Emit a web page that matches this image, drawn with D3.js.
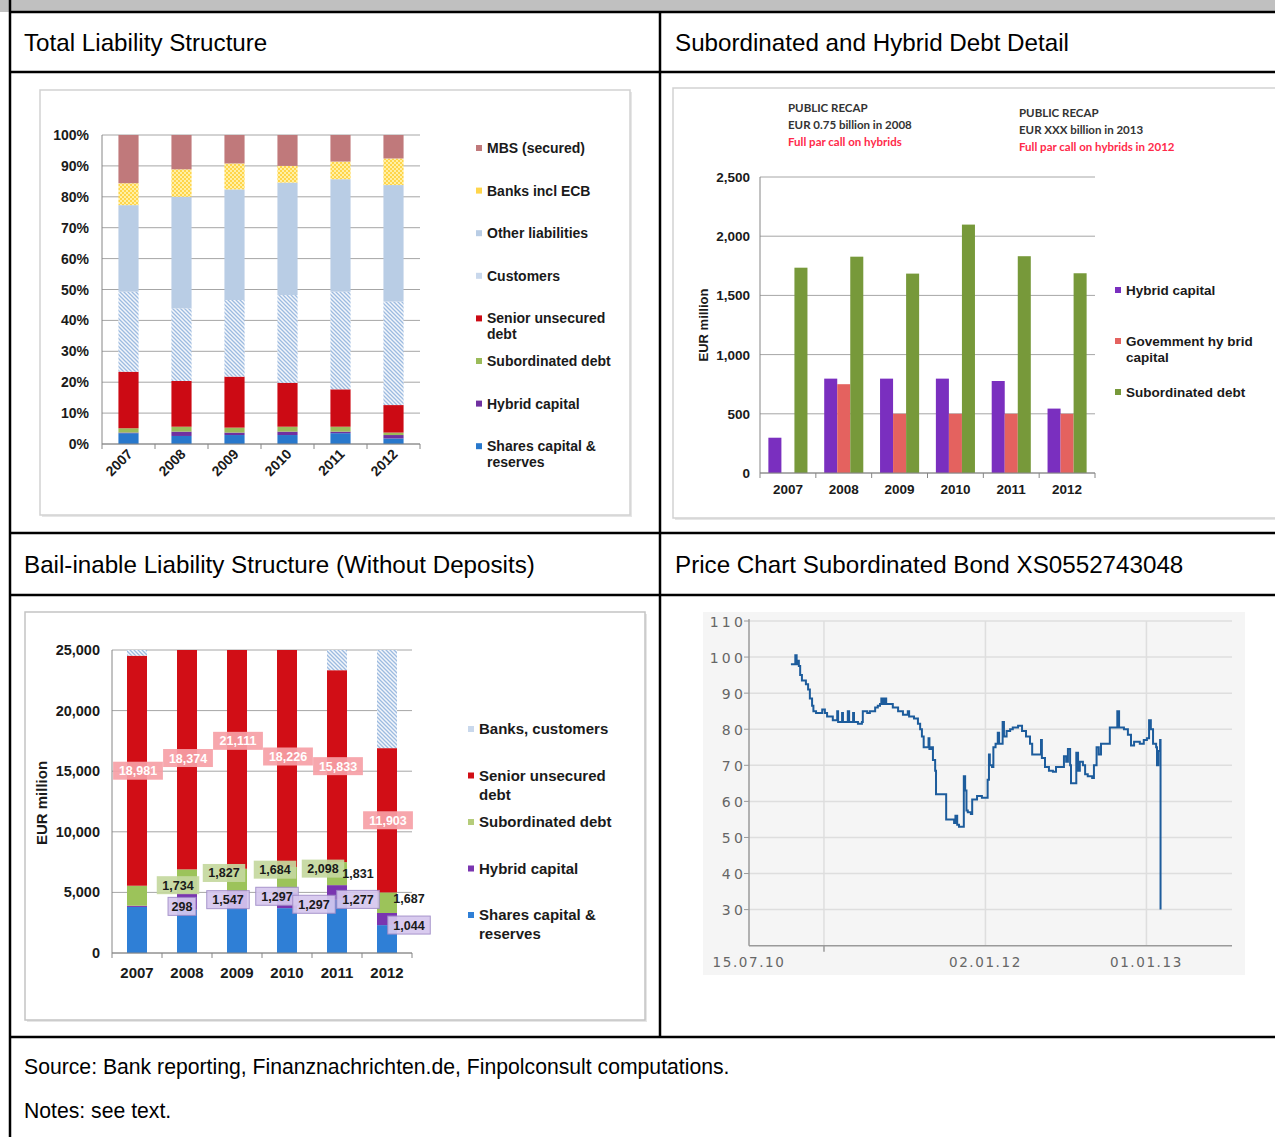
<!DOCTYPE html>
<html>
<head>
<meta charset="utf-8">
<script src="https://cdn.jsdelivr.net/npm/d3@7"></script>
<style>
body { margin: 0; background: #fff; }
svg { display: block; font-family: "Liberation Sans", Arial, sans-serif; }
</style>
</head>
<body>
<svg id="page" width="1275" height="1137"></svg>
<script>
const years = ['2007', '2008', '2009', '2010', '2011', '2012'];

// Total liability structure, share of total (%)
const tlShares = [3.5, 2.6, 2.9, 2.9, 3.5, 1.8];
const tlHybrid = [0.2, 1.4, 0.8, 1.1, 0.5, 1.1];
const tlSub = [1.4, 1.6, 1.6, 1.6, 1.6, 0.8];
const tlSenior = [18.3, 14.8, 16.5, 14.2, 12.1, 8.9];
const tlCustomers = [25.9, 23.5, 24.8, 28.4, 31.6, 33.5];
const tlOther = [28.0, 36.1, 35.8, 36.4, 36.4, 37.7];
const tlBanks = [7.1, 8.9, 8.4, 5.4, 5.7, 8.6];
const tlMbs = [15.6, 11.1, 9.2, 10.0, 8.6, 7.6];
const tlTicks = [0, 10, 20, 30, 40, 50, 60, 70, 80, 90, 100];
const tlLegend = [['MBS (secured)'], ['Banks incl ECB'], ['Other liabilities'], ['Customers'],
    ['Senior unsecured', 'debt'], ['Subordinated debt'], ['Hybrid capital'], ['Shares capital &', 'reserves']];

// Subordinated and hybrid debt detail, EUR million
const trHybrid = [298, 797, 797, 797, 777, 544];
const trGov = [0, 750, 500, 500, 500, 500];
const trSub = [1734, 1827, 1684, 2098, 1831, 1687];
const trTicks = [0, 500, 1000, 1500, 2000, 2500];
const trLegend = [['Hybrid capital'], ['Govemment hy brid', 'capital'], ['Subordinated debt']];
const trNoteLeft = ['PUBLIC RECAP', 'EUR 0.75  billion in 2008', 'Full par call on hybrids'];
const trNoteRight = ['PUBLIC RECAP', 'EUR XXX billion in 2013', 'Full par call on hybrids in 2012'];

// Bail-inable liability structure, EUR million
const blShares = [3800, 3570, 3700, 3700, 4400, 2300];
const blHybrid = [100, 1380, 1400, 1300, 1200, 1000];
const blSub = [1650, 1950, 1850, 2100, 1900, 1700];
const blSenior = [18981, 18374, 21111, 18226, 15833, 11903];
const blBanks = [2500, 2500, 2500, 2500, 4000, 10000];
const blTicks = [0, 5000, 10000, 15000, 20000, 25000];
const blSubLabelYears = ['2008', '2009', '2010', '2011', '2011', '2012'];
const blSubLabels = [1734, 1827, 1684, 2098, 1831, 1687];
const blHybLabelYears = ['2008', '2009', '2010', '2010', '2011', '2012'];
const blHybLabels = [298, 1547, 1297, 1297, 1277, 1044];
const blLegend = [['Banks, customers'], ['Senior unsecured', 'debt'], ['Subordinated debt'], ['Hybrid capital'], ['Shares capital &', 'reserves']];

// Price chart subordinated bond
const priceDates = ['2010-10-18','2010-10-25','2010-10-28','2010-10-31','2010-11-03','2010-11-05','2010-11-08','2010-11-12',
    '2010-11-21','2010-11-26','2010-11-30','2010-12-05','2010-12-08','2010-12-14','2010-12-23','2010-12-28',
    '2011-01-03','2011-01-08','2011-01-17','2011-01-21','2011-01-28','2011-01-31','2011-02-02','2011-02-09',
    '2011-02-11','2011-02-13','2011-02-22','2011-02-24','2011-02-27','2011-03-06','2011-03-08','2011-03-10',
    '2011-03-19','2011-03-28','2011-03-30','2011-04-09','2011-04-15','2011-04-27','2011-05-03','2011-05-08',
    '2011-05-11','2011-05-15','2011-05-19','2011-05-22','2011-05-31','2011-06-06','2011-06-18','2011-06-29',
    '2011-07-08','2011-07-10','2011-07-13','2011-07-24','2011-08-02','2011-08-07','2011-08-11','2011-08-15',
    '2011-08-23','2011-08-26','2011-08-28','2011-09-01','2011-09-05','2011-09-10','2011-09-12','2011-10-02',
    '2011-10-05','2011-10-20','2011-10-23','2011-10-26','2011-10-30','2011-11-03','2011-11-12','2011-11-14',
    '2011-11-17','2011-11-20','2011-11-23','2011-11-30','2011-12-03','2011-12-14','2011-12-21','2011-12-25',
    '2012-01-03','2012-01-07','2012-01-10','2012-01-12','2012-01-17','2012-01-20','2012-01-25','2012-01-30',
    '2012-02-02','2012-02-10','2012-02-13','2012-02-19','2012-02-27','2012-03-04','2012-03-16','2012-03-25',
    '2012-04-03','2012-04-12','2012-04-17','2012-05-05','2012-05-07','2012-05-09','2012-05-16','2012-05-25',
    '2012-06-03','2012-06-10','2012-06-24','2012-06-28','2012-07-03','2012-07-07','2012-07-12','2012-07-14',
    '2012-07-23','2012-07-26','2012-07-30','2012-08-03','2012-08-10','2012-08-15','2012-08-21','2012-08-31',
    '2012-09-04','2012-09-10','2012-09-15','2012-09-20','2012-10-06','2012-10-10','2012-10-24','2012-10-27',
    '2012-10-31','2012-11-11','2012-11-20','2012-11-27','2012-12-04','2012-12-17','2012-12-26','2013-01-02',
    '2013-01-07','2013-01-11','2013-01-16','2013-01-23','2013-01-25','2013-01-28','2013-02-01','2013-02-02'];
const priceValues = [98, 98, 100.5, 98, 99, 97.5, 95, 93.5,
    92.5, 91, 88.5, 86.5, 85, 84.5, 84.5, 85.5,
    84.5, 83.5, 83.5, 82.5, 82.5, 85, 82, 82,
    84.5, 82, 82, 85, 82, 82, 84.5, 82,
    81.5, 82, 85, 84.5, 85, 86, 86.5, 87,
    88.5, 87, 88.5, 87, 87, 86, 85, 84,
    84, 85, 83.5, 83, 81.5, 80, 78, 75,
    75, 77.5, 74.5, 75, 71.5, 68.5, 62, 62,
    55, 55, 54, 56, 53.5, 53, 53, 67,
    63, 57.5, 57, 56.5, 60.5, 61.5, 61.5, 61,
    61, 66, 73, 70, 69.5, 75, 76, 79,
    76, 82, 78, 79.5, 80, 80.5, 81, 79.5,
    78, 76, 73, 73, 77, 72, 69.5, 68.5,
    68.2, 69.5, 69.5, 72.5, 71, 74.5, 70, 65,
    65, 73.5, 68.5, 71, 70, 67.5, 67, 66.5,
    70, 75, 73, 76, 76, 80.5, 80.5, 85,
    80.5, 80, 78.5, 75.5, 76.5, 76, 77, 77.5,
    82.5, 80, 76, 75, 70, 74, 77, 30];
const priceTicks = [30, 40, 50, 60, 70, 80, 90, 100, 110];
const priceGridDates = ['2011-01-01', '2012-01-02', '2013-01-01'];
const priceLabelDates = ['2010-07-15', '2012-01-02', '2013-01-01'];

const svg = d3.select('#page');
const parseDate = d3.timeParse('%Y-%m-%d');
const fmt = d3.format(',');

// patterns
const defs = svg.append('defs');
const hatch = defs.append('pattern').attr('id', 'hatch').attr('patternUnits', 'userSpaceOnUse')
    .attr('width', 4).attr('height', 4);
hatch.append('rect').attr('width', 4).attr('height', 4).attr('fill', '#f3f6fb');
hatch.append('path').attr('d', 'M-1,-1 L5,5 M-1,3 L1,5 M3,-1 L5,1')
    .attr('stroke', '#9dbbe0').attr('stroke-width', 1.3);
const dots = defs.append('pattern').attr('id', 'dots').attr('patternUnits', 'userSpaceOnUse')
    .attr('width', 4).attr('height', 4);
dots.append('rect').attr('width', 4).attr('height', 4).attr('fill', '#ffd54a');
dots.append('rect').attr('width', 2).attr('height', 2).attr('fill', '#fff0a6');
dots.append('rect').attr('x', 2).attr('y', 2).attr('width', 2).attr('height', 2).attr('fill', '#fff0a6');
defs.append('clipPath').attr('id', 'blClip').append('rect')
    .attr('x', 100).attr('y', 650).attr('width', 330).attr('height', 310);

// ---------- table frame ----------
svg.append('rect').attr('x', 0).attr('y', 0).attr('width', 1275).attr('height', 12).attr('fill', '#c0c0c0');
[12, 72, 533, 595, 1037].forEach(y => {
    svg.append('line').attr('x1', 9).attr('x2', 1275).attr('y1', y).attr('y2', y)
        .attr('stroke', '#000').attr('stroke-width', 2.5);
});
svg.append('line').attr('x1', 10).attr('x2', 10).attr('y1', 0).attr('y2', 1137).attr('stroke', '#000').attr('stroke-width', 2.5);
svg.append('line').attr('x1', 660).attr('x2', 660).attr('y1', 12).attr('y2', 1037).attr('stroke', '#000').attr('stroke-width', 2.5);

function headText(x, y, t, size) {
    svg.append('text').attr('x', x).attr('y', y).attr('font-size', size).attr('fill', '#000').text(t);
}
headText(24, 51, 'Total Liability Structure', 24.2);
headText(675, 51, 'Subordinated and Hybrid Debt Detail', 24.2);
headText(24, 573, 'Bail-inable Liability Structure (Without Deposits)', 24.2);
headText(675, 573, 'Price Chart Subordinated Bond XS0552743048', 24.2);
headText(24, 1074, 'Source: Bank reporting, Finanznachrichten.de, Finpolconsult computations.', 21.2);
headText(24, 1118, 'Notes: see text.', 21.2);

function panel(x, y, w, h, fill, stroke) {
    svg.append('rect').attr('x', x + 2).attr('y', y + 2).attr('width', w).attr('height', h).attr('fill', '#e6e6e6');
    svg.append('rect').attr('x', x).attr('y', y).attr('width', w).attr('height', h)
        .attr('fill', fill).attr('stroke', stroke).attr('stroke-width', 1.5);
}

function legend(g, items, colors, x, y0, step, size, lineGap) {
    items.forEach((lines, i) => {
        const y = y0 + i * step;
        g.append('rect').attr('x', x).attr('y', y - 3).attr('width', 6).attr('height', 6).attr('fill', colors[i]);
        lines.forEach((t, j) => {
            g.append('text').attr('x', x + 11).attr('y', y + 5 + j * lineGap)
                .attr('font-size', size).attr('font-weight', 'bold').attr('fill', '#1a1a1a').text(t);
        });
    });
}

// ---------- Total Liability Structure ----------
panel(40, 90, 590, 425, '#fff', '#d2d2d2');
const tl = svg.append('g');
const tlRows = years.map((yr, i) => ({
    year: yr, shares: tlShares[i], hybrid: tlHybrid[i], sub: tlSub[i], senior: tlSenior[i],
    customers: tlCustomers[i], other: tlOther[i], banks: tlBanks[i], mbs: tlMbs[i]
}));
const tlKeys = ['shares', 'hybrid', 'sub', 'senior', 'customers', 'other', 'banks', 'mbs'];
const tlColor = d3.scaleOrdinal().domain(tlKeys)
    .range(['#2878cc', '#7030a0', '#9bbb59', '#cc0a14', 'url(#hatch)', '#b9cde5', 'url(#dots)', '#c0797b']);
const xTl = d3.scaleBand().domain(years).range([102, 420]).paddingInner(0.62).paddingOuter(0.31);
const yTl = d3.scaleLinear().domain([0, 100]).range([444, 135]);

tl.selectAll('.grid').data(tlTicks).enter().append('line')
    .attr('x1', 102).attr('x2', 420).attr('y1', d => yTl(d)).attr('y2', d => yTl(d))
    .attr('stroke', '#a6a6a6').attr('stroke-width', 1);
tl.selectAll('.ylab').data(tlTicks).enter().append('text')
    .attr('x', 89).attr('y', d => yTl(d) + 5).attr('text-anchor', 'end')
    .attr('font-size', 14).attr('font-weight', 'bold').attr('fill', '#1a1a1a').text(d => d + '%');

tl.append('g').selectAll('g').data(d3.stack().keys(tlKeys)(tlRows)).enter().append('g')
    .attr('fill', d => tlColor(d.key))
    .selectAll('rect').data(d => d).enter().append('rect')
    .attr('x', d => xTl(d.data.year)).attr('width', xTl.bandwidth())
    .attr('y', d => yTl(d[1])).attr('height', d => yTl(d[0]) - yTl(d[1]));

tl.append('line').attr('x1', 102).attr('x2', 102).attr('y1', yTl(100)).attr('y2', yTl(0)).attr('stroke', '#868686');
tl.append('line').attr('x1', 102).attr('x2', 420).attr('y1', yTl(0)).attr('y2', yTl(0)).attr('stroke', '#868686');
d3.range(years.length + 1).forEach(k => {
    const x = 102 + k * xTl.step();
    tl.append('line').attr('x1', x).attr('x2', x).attr('y1', yTl(0)).attr('y2', yTl(0) + 5).attr('stroke', '#868686');
});
tl.selectAll('.xlab').data(years).enter().append('text')
    .attr('transform', d => `translate(${xTl(d) + xTl.bandwidth() / 2 + 5}, 455) rotate(-45)`)
    .attr('text-anchor', 'end').attr('font-size', 14).attr('font-weight', 'bold').attr('fill', '#1a1a1a').text(d => d);

legend(tl, tlLegend, ['#c0797b', '#ffd54a', '#b9cde5', '#c9d8ec', '#cc0a14', '#9bbb59', '#7030a0', '#2878cc'],
    476, 148, 42.6, 14, 16);

// ---------- Subordinated and Hybrid Debt Detail ----------
panel(673, 88, 610, 430, '#fff', '#d2d2d2');
const tr = svg.append('g');
const trKeys = ['hybrid', 'gov', 'sub'];
const trRows = years.map((yr, i) => ({ year: yr, hybrid: trHybrid[i], gov: trGov[i], sub: trSub[i] }));
const trColor = d3.scaleOrdinal().domain(trKeys).range(['#7a2fbf', '#e4625f', '#77993a']);
const x0Tr = d3.scaleBand().domain(years).range([760, 1095]).paddingInner(0.3).paddingOuter(0.15);
const x1Tr = d3.scaleBand().domain(trKeys).range([0, x0Tr.bandwidth()]);
const yTr = d3.scaleLinear().domain([0, 2500]).range([473, 177]);

tr.selectAll('.grid').data(trTicks).enter().append('line')
    .attr('x1', 760).attr('x2', 1095).attr('y1', d => yTr(d)).attr('y2', d => yTr(d))
    .attr('stroke', '#a6a6a6');
tr.selectAll('.ylab').data(trTicks).enter().append('text')
    .attr('x', 750).attr('y', d => yTr(d) + 5).attr('text-anchor', 'end')
    .attr('font-size', 13.5).attr('font-weight', 'bold').attr('fill', '#1a1a1a').text(d => fmt(d));
tr.append('g').selectAll('g').data(trRows).enter().append('g')
    .attr('transform', d => `translate(${x0Tr(d.year)},0)`)
    .selectAll('rect').data(d => trKeys.map(k => ({ key: k, value: d[k] }))).enter().append('rect')
    .attr('x', d => x1Tr(d.key)).attr('width', x1Tr.bandwidth())
    .attr('y', d => yTr(d.value)).attr('height', d => yTr(0) - yTr(d.value))
    .attr('fill', d => trColor(d.key));
tr.append('line').attr('x1', 760).attr('x2', 760).attr('y1', yTr(2500)).attr('y2', yTr(0)).attr('stroke', '#868686');
tr.append('line').attr('x1', 760).attr('x2', 1095).attr('y1', yTr(0)).attr('y2', yTr(0)).attr('stroke', '#868686');
d3.range(years.length + 1).forEach(k => {
    const x = 760 + k * x0Tr.step();
    tr.append('line').attr('x1', x).attr('x2', x).attr('y1', yTr(0)).attr('y2', yTr(0) + 5).attr('stroke', '#868686');
});
tr.selectAll('.xlab').data(years).enter().append('text')
    .attr('x', d => x0Tr(d) + x0Tr.bandwidth() / 2).attr('y', 494).attr('text-anchor', 'middle')
    .attr('font-size', 13.5).attr('font-weight', 'bold').attr('fill', '#1a1a1a').text(d => d);
tr.append('text').attr('transform', 'translate(708, 325) rotate(-90)').attr('text-anchor', 'middle')
    .attr('font-size', 13).attr('font-weight', 'bold').attr('fill', '#1a1a1a').text('EUR million');

function note(lines, x, y) {
    lines.forEach((t, i) => {
        tr.append('text').attr('x', x).attr('y', y + i * 17).attr('font-family', 'Lato, sans-serif')
            .attr('font-size', 11.5).attr('font-weight', 'bold')
            .attr('fill', i === 2 ? '#ff2a4a' : '#333').text(t);
    });
}
note(trNoteLeft, 788, 112);
note(trNoteRight, 1019, 117);
legend(tr, trLegend, ['#7a2fbf', '#e4625f', '#77993a'], 1115, 290, 51, 13.5, 16);

// ---------- Bail-inable Liability Structure ----------
panel(25, 612, 620, 408, '#fff', '#c4c4c4');
const bl = svg.append('g');
const blKeys = ['shares', 'hybrid', 'sub', 'senior', 'banks'];
const blRows = years.map((yr, i) => ({
    year: yr, shares: blShares[i], hybrid: blHybrid[i], sub: blSub[i], senior: blSenior[i], banks: blBanks[i]
}));
const blColor = d3.scaleOrdinal().domain(blKeys).range(['#2f7fd6', '#7a35b0', '#9cc35a', '#d10e16', 'url(#hatch)']);
const xBl = d3.scaleBand().domain(years).range([112, 412]).paddingInner(0.6).paddingOuter(0.3);
const yBl = d3.scaleLinear().domain([0, 25000]).range([953, 650]);
const blStack = d3.stack().keys(blKeys)(blRows);

bl.selectAll('.grid').data(blTicks).enter().append('line')
    .attr('x1', 112).attr('x2', 412).attr('y1', d => yBl(d)).attr('y2', d => yBl(d))
    .attr('stroke', '#a6a6a6');
bl.selectAll('.ylab').data(blTicks).enter().append('text')
    .attr('x', 100).attr('y', d => yBl(d) + 5).attr('text-anchor', 'end')
    .attr('font-size', 14.5).attr('font-weight', 'bold').attr('fill', '#1a1a1a').text(d => fmt(d));
bl.append('g').attr('clip-path', 'url(#blClip)').selectAll('g').data(blStack).enter().append('g')
    .attr('fill', d => blColor(d.key))
    .selectAll('rect').data(d => d).enter().append('rect')
    .attr('x', d => xBl(d.data.year)).attr('width', xBl.bandwidth())
    .attr('y', d => yBl(d[1])).attr('height', d => yBl(d[0]) - yBl(d[1]));
bl.append('line').attr('x1', 112).attr('x2', 112).attr('y1', yBl(25000)).attr('y2', yBl(0)).attr('stroke', '#868686');
bl.append('line').attr('x1', 112).attr('x2', 412).attr('y1', yBl(0)).attr('y2', yBl(0)).attr('stroke', '#868686');
d3.range(years.length + 1).forEach(k => {
    const x = 112 + k * xBl.step();
    bl.append('line').attr('x1', x).attr('x2', x).attr('y1', yBl(0)).attr('y2', yBl(0) + 5).attr('stroke', '#868686');
});
bl.selectAll('.xlab').data(years).enter().append('text')
    .attr('x', d => xBl(d) + xBl.bandwidth() / 2).attr('y', 978).attr('text-anchor', 'middle')
    .attr('font-size', 15).attr('font-weight', 'bold').attr('fill', '#1a1a1a').text(d => d);
bl.append('text').attr('transform', 'translate(47, 803) rotate(-90)').attr('text-anchor', 'middle')
    .attr('font-size', 15).attr('font-weight', 'bold').attr('fill', '#1a1a1a').text('EUR million');

// data labels: midpoint of a stacked segment, shifted sideways like the source
function segMid(key, year) {
    const s = blStack.find(d => d.key === key);
    const p = s[years.indexOf(year)];
    return yBl((p[0] + p[1]) / 2);
}
function dataLabel(x, y, t, fill, stroke, color) {
    const w = t.length * 7.3 + 6;
    if (fill) {
        bl.append('rect').attr('x', x - w / 2).attr('y', y - 9).attr('width', w).attr('height', 18)
            .attr('fill', fill).attr('stroke', stroke || 'none').attr('opacity', 0.92);
    }
    bl.append('text').attr('x', x).attr('y', y + 4.5).attr('text-anchor', 'middle')
        .attr('font-size', 12.5).attr('font-weight', 'bold').attr('fill', color).text(t);
}
const bandMid = yr => xBl(yr) + xBl.bandwidth() / 2;
years.forEach((yr, i) => {
    dataLabel(bandMid(yr) + 1, segMid('senior', yr), fmt(blSenior[i]), '#f6a0a6', null, '#fff');
});
const subDx = [-9, -13, -12, -14, 21, 22];
const subDy = [4, -7, -10, -5, 0, -4];
const subBoxed = [true, true, true, true, false, false];
blSubLabels.forEach((v, i) => {
    const yr = blSubLabelYears[i];
    dataLabel(bandMid(yr) + subDx[i], segMid('sub', yr) + subDy[i], fmt(v),
        subBoxed[i] ? '#c4d89e' : null, null, '#1a1a1a');
});
const hybDx = [-5, -9, -10, 27, 21, 22];
const hybDy = [5, 0, -4, 4, 7, 6];
blHybLabels.forEach((v, i) => {
    const yr = blHybLabelYears[i];
    dataLabel(bandMid(yr) + hybDx[i], segMid('hybrid', yr) + hybDy[i], fmt(v), '#d6c7ee', '#a08cc8', '#1a1a1a');
});
legend(bl, blLegend, ['#c9d8ec', '#d10e16', '#b5cc7a', '#7a35b0', '#2f7fd6'], 468, 729, 46.5, 15, 19);

// ---------- Price chart ----------
svg.append('rect').attr('x', 703).attr('y', 612).attr('width', 542).attr('height', 363).attr('fill', '#f5f5f5');
const pc = svg.append('g');
const priceData = priceDates.map((d, i) => ({ date: parseDate(d), value: priceValues[i] }));
const xP = d3.scaleTime().domain([parseDate('2010-07-15'), parseDate('2013-07-14')]).range([749, 1232]);
const yP = d3.scaleLinear().domain([20, 110]).range([945.7, 621]);

pc.selectAll('.hg').data(priceTicks).enter().append('line')
    .attr('x1', 749).attr('x2', 1232).attr('y1', d => yP(d)).attr('y2', d => yP(d))
    .attr('stroke', '#dedede').attr('stroke-width', 1.5);
pc.selectAll('.vg').data(priceGridDates).enter().append('line')
    .attr('x1', d => xP(parseDate(d))).attr('x2', d => xP(parseDate(d)))
    .attr('y1', 621).attr('y2', yP(20)).attr('stroke', '#dedede').attr('stroke-width', 1.5);
pc.append('line').attr('x1', 749).attr('x2', 749).attr('y1', 619).attr('y2', yP(20)).attr('stroke', '#9a9a9a').attr('stroke-width', 1.5);
pc.append('line').attr('x1', 749).attr('x2', 1232).attr('y1', yP(20)).attr('y2', yP(20)).attr('stroke', '#9a9a9a').attr('stroke-width', 1.5);
pc.selectAll('.yt').data(priceTicks).enter().append('line')
    .attr('x1', 744).attr('x2', 749).attr('y1', d => yP(d)).attr('y2', d => yP(d)).attr('stroke', '#9a9a9a');
pc.append('line').attr('x1', xP(parseDate('2011-01-01'))).attr('x2', xP(parseDate('2011-01-01')))
    .attr('y1', yP(20)).attr('y2', yP(20) + 6).attr('stroke', '#9a9a9a').attr('stroke-width', 1.5);
pc.selectAll('.ylab').data(priceTicks).enter().append('text')
    .attr('x', 746).attr('y', d => yP(d) + 5.5).attr('text-anchor', 'end')
    .attr('font-family', '"DejaVu Sans", sans-serif').attr('font-size', 14).attr('letter-spacing', 3.2)
    .attr('fill', '#666').text(d => d);
pc.selectAll('.xlab').data(priceLabelDates).enter().append('text')
    .attr('x', d => xP(parseDate(d))).attr('y', 967).attr('text-anchor', 'middle')
    .attr('font-family', '"DejaVu Sans", sans-serif').attr('font-size', 13.5).attr('letter-spacing', 1.6)
    .attr('fill', '#666').text(d => d3.timeFormat('%d.%m.%y')(parseDate(d)));
pc.append('path').datum(priceData)
    .attr('fill', 'none').attr('stroke', '#1d5c9c').attr('stroke-width', 2)
    .attr('d', d3.line().curve(d3.curveStepAfter).x(d => xP(d.date)).y(d => yP(d.value)));
</script>
</body>
</html>
